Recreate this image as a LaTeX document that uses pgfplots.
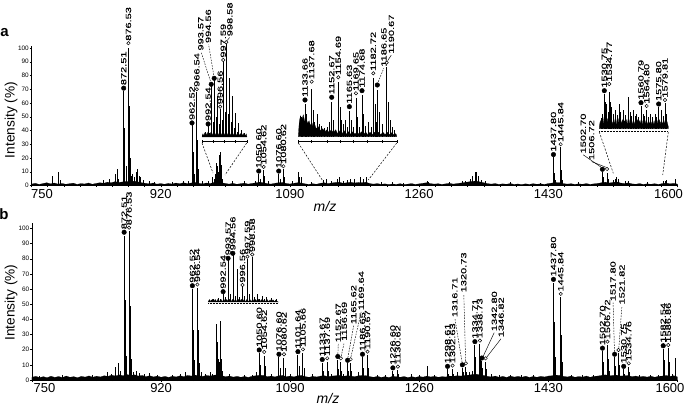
\documentclass[border=0pt]{standalone}
\usepackage{pgfplots}
\pgfplotsset{compat=1.18}
\usepackage{pgfplotstable}
\usepackage{fontspec}
\setmainfont{Liberation Sans}
\newfontfamily\lblfont[FakeStretch=1.47, FakeBold=0.15]{Liberation Sans}

\tikzset{
 lb/.style={rotate=90, anchor=west, inner sep=2.8pt, font=\lblfont\fontsize{7.5}{7.5}\selectfont},
 lbo/.style={lb, inner sep=2.2pt},
 lbl/.style={lb, inner sep=0.8pt},
 ldash/.style={line width=0.45pt, dash pattern=on 1.6pt off 1.2pt},
 lsol/.style={line width=0.45pt},
 cdash/.style={line width=0.5pt, dash pattern=on 2pt off 1.5pt},
}
\pgfplotsset{
 dots/.style={only marks, mark=*, mark size=2.3pt, mark options={fill=black, draw=black}},
 circs/.style={only marks, mark=*, mark size=1.7pt, mark options={fill=white, draw=black, line width=0.5pt}},
 sticks/.style={ycomb, black, line width=1pt},
 isticks/.style={ycomb, black, line width=0.6pt},
 mainax/.style={scale only axis, clip=false, anchor=south west, xmin=750, xmax=1600,
   axis x line*=bottom, axis y line*=left,
   axis line style={-, line width=0.5pt}, x axis line style={-}, y axis line style={-},
   xtick={750,920,1090,1260,1430,1600}, minor x tick num=7,
   ytick={0,10,...,100}, yticklabels={0,10,20,30,40,50,60,70,80,90,100},
   tick align=outside, major tick length=2pt, minor tick length=1.2pt,
   tick style={line width=0.4pt, black},
   xticklabel style={font=\fontsize{13}{13}\selectfont, inner sep=1.5pt},
   yticklabel style={font=\fontsize{6.4}{6.4}\selectfont, inner sep=0.6pt},
 },
 inax/.style={scale only axis, clip=false, anchor=south west,
   axis x line*=bottom, axis y line=none,
   axis line style={-, line width=0.5pt}, x axis line style={-},
   xticklabels={}, ytick=\empty, tick align=center, major tick length=2.5pt,
   tick style={line width=0.4pt, black}},
 hinax/.style={scale only axis, clip=false, anchor=south west, hide axis},
}

\pgfplotstableread{
x a b
750 1.0 1.8
755 1.6 2.4
760 0.8 1.6
765 1.4 2.2
770 2.0 1.5
775 1.2 2.5
780 1.8 1.7
785 1.0 2.3
790 1.5 1.6
795 0.9 2.6
800 1.3 1.8
805 1.7 2.2
810 0.8 1.5
815 1.4 2.4
820 1.1 1.9
825 1.8 2.7
830 0.9 1.8
835 1.5 2.5
840 2.0 2.0
845 1.6 2.8
850 2.4 2.4
855 2.0 3.2
860 2.8 2.6
865 2.2 3.4
870 2.6 2.8
875 3.0 3.6
880 2.4 3.0
885 3.2 3.4
890 2.6 2.6
895 2.0 3.0
900 1.6 2.2
905 1.2 2.8
910 1.8 2.0
915 1.0 2.6
920 1.4 1.8
925 0.9 2.4
930 1.5 1.7
935 1.1 2.5
940 1.8 2.0
945 1.3 2.8
950 2.0 2.2
955 1.4 3.0
960 1.8 2.6
965 2.2 3.2
970 1.6 2.8
975 1.2 2.4
980 1.8 3.0
985 1.4 2.6
990 2.2 3.2
995 2.8 3.4
1000 2.0 2.8
1005 1.5 2.2
1010 1.0 2.6
1015 1.6 1.9
1020 0.9 2.4
1025 1.3 1.8
1030 1.7 2.3
1035 1.0 1.7
1040 1.5 2.5
1045 1.9 2.8
1050 2.4 3.2
1055 2.0 3.0
1060 1.4 2.2
1065 1.0 2.6
1070 1.6 2.0
1075 2.0 2.8
1080 2.2 3.0
1085 1.5 2.2
1090 1.1 2.6
1095 1.6 2.0
1100 2.0 2.8
1105 1.8 3.0
1110 1.2 2.2
1115 0.8 1.8
1120 1.3 2.4
1125 0.9 2.0
1130 1.6 2.6
1135 2.0 2.8
1140 1.4 2.2
1145 1.8 2.6
1150 2.2 2.8
1155 2.4 3.0
1160 1.6 2.4
1165 2.0 2.8
1170 2.4 2.6
1175 1.8 2.2
1180 2.2 2.8
1185 2.0 3.0
1190 2.4 2.8
1195 1.4 2.2
1200 1.0 1.8
1205 1.4 2.4
1210 0.8 1.7
1215 1.2 2.2
1220 0.7 1.6
1225 1.1 2.4
1230 0.8 2.2
1235 1.3 1.8
1240 0.7 2.3
1245 1.0 1.6
1250 1.4 2.2
1255 0.8 1.7
1260 1.2 2.3
1265 1.6 1.9
1270 2.0 2.6
1275 1.4 2.0
1280 1.0 2.4
1285 1.3 1.8
1290 0.8 2.2
1295 1.2 2.0
1300 1.6 2.6
1305 1.0 2.4
1310 1.4 2.8
1315 1.8 2.6
1320 2.2 3.0
1325 2.6 3.2
1330 3.0 3.6
1335 3.2 3.8
1340 2.6 3.4
1345 2.0 3.0
1350 1.4 2.4
1355 1.0 2.0
1360 1.4 2.6
1365 0.8 1.8
1370 1.2 2.4
1375 0.9 1.7
1380 1.4 2.6
1385 0.8 1.9
1390 1.1 2.4
1395 0.7 1.8
1400 1.2 2.5
1405 0.8 1.7
1410 1.3 2.3
1415 0.9 1.8
1420 1.2 2.4
1425 0.8 2.0
1430 1.4 2.6
1435 1.8 2.8
1440 2.2 3.2
1445 2.0 3.0
1450 1.4 2.4
1455 1.0 2.0
1460 1.3 2.6
1465 0.8 1.8
1470 1.2 2.3
1475 0.9 1.9
1480 1.4 2.6
1485 0.8 1.8
1490 1.2 2.4
1495 1.5 2.6
1500 2.0 3.0
1505 2.4 3.4
1510 1.8 2.8
1515 2.2 3.0
1520 2.6 3.2
1525 1.8 2.6
1530 1.4 2.8
1535 1.9 3.0
1540 1.2 2.2
1545 0.9 2.6
1550 1.4 2.0
1555 0.8 2.4
1560 1.2 1.9
1565 0.9 2.5
1570 1.3 1.8
1575 0.8 2.4
1580 1.4 2.6
1585 1.8 3.0
1590 1.2 2.4
1595 1.6 2.8
1600 1.0 2.0
}\noise

\pgfplotstableread{
x y
777 7
785 9.5
788 4
845 4
852 5
860 8
862.5 12
865 5
871.3 69
872.6 42
874.5 14
877.6 100
878.8 58
880 20
881.5 7
883 8
886 6
887.5 10
890 12
891.5 7
893 6
897 4
905 3
912 2.8
935 2.5
950 3
957 3.5
961.2 44
963.5 24
964.5 8
967.6 68
969 33
970 12
975 3
983 3
987.5 6
990.5 5
992.54 8
993.57 16
994.56 14
995.56 10
996.56 9
997.59 22
998.58 24
999.58 15
1000.6 8
1001.6 5
1015 3
1030 3
1045 3.5
1049 8.5
1051 5
1055.5 11.5
1057 7
1062 3
1075.3 8.5
1077 5
1081.5 12
1083 6
1093 3
1101.6 9.5
1103 6
1105.7 6
1118 2.5
1134 4
1138 5
1145 3
1153 5
1155 6
1160 3.5
1166 4
1170 5
1175 5
1183 6
1187 5
1191 6.5
1210 2.5
1225 2.5
1240 2
1271 3.5
1273 2.8
1300 2.5
1317 3
1321 3.5
1328 5
1330 7
1334.7 9.5
1336 10
1338.7 7
1342 4
1347 3
1380 2.5
1420 2
1436.8 20.5
1438.3 9
1439.8 4
1446.3 28
1447.8 11
1449 4
1470 2.5
1501.2 10
1503 6
1507.3 9
1508.8 5
1516 4
1518 5
1520 6.5
1522 5
1531 3
1535 3.5
1560 2.5
1582 3
1584 3.5
1586 4
1598 4.5
}\peaksA

\pgfplotstableread{
x y
760 2.5
790 3
830 3.5
850 5
855 4
860 8.5
864 11
866 6
871.3 95
872.7 53
874.5 16
877.8 98
879.2 49
880.5 14
883 5
887 6
891 4.5
898 4
905 4.5
915 3.5
935 3
945 4
952 5
961.2 60
962.6 33
964.5 13
967.8 60.5
969.2 33
970.5 11
973 5
978 4
985 5
988 4
992.54 12
993.57 37
994.56 25
995.56 14
996.56 12
997.59 39
998.58 30
999.6 14
1000.6 6
1010 4
1030 3
1040 3.5
1045 5
1049.2 17.5
1050.6 10
1055.8 16
1057.2 9
1065 4
1075.2 15
1076.6 8
1081.8 14.5
1083.2 8
1090 4
1100.2 16.5
1101.6 9
1106.8 17.5
1108.2 8
1120 4
1132.2 11.5
1133.6 6
1138.8 12
1140.2 6
1145 4
1152.67 13.5
1153.7 7
1156.69 12
1157.7 6
1160 4
1165.62 11
1166.6 6
1169.64 11.5
1170.6 6
1180 5
1185.2 15
1186.6 8
1191.8 16.5
1193.2 8
1205 3
1215 3.5
1225.2 6
1226.6 4
1231.8 6.5
1233.2 4
1250 4
1260 3
1271 9.5
1280 3
1297.2 7
1298.6 4
1303.8 7.5
1305.2 4
1310 5
1316.71 8
1317.7 5
1321.3 8.5
1322.7 5
1326 5
1330 6
1333.2 23
1334.6 15
1339.8 23.5
1341.2 14
1342.3 12.5
1343.8 8
1347.3 12
1348.8 7
1355 4
1365 3
1380 3.5
1395 3
1410 3
1436.7 64
1438.1 38
1439.6 15
1446.3 54.5
1447.7 30
1449.2 12
1460 3
1475 3.5
1490 3
1501.2 19
1502.6 12
1507.8 23
1509.2 14
1511 6
1517.2 15
1518.6 9
1522.3 17.5
1523.7 10
1529.2 7
1530.6 4
1535.8 8.5
1537.2 5
1550 3
1565 3
1575 3.5
1581.2 20.5
1582.6 13
1587.8 21
1589.2 12
1593 4
1598 14.5
}\peaksB

\begin{document}
\begin{tikzpicture}
\useasboundingbox (0,0) rectangle (685pt,406pt);

% ================= PANEL A =================
\begin{axis}[mainax, at={(31.5pt,220.5pt)}, width=646pt, height=139pt, ymin=0, ymax=101.1,
  xticklabels={\hspace*{21pt}750,920,1090,1260,1430,1600\hspace*{18pt}}]
\addplot[fill=black, draw=black, line width=0.2pt] table[x=x,y=a]{\noise} \closedcycle;
\addplot[sticks] table[x=x,y=y]{\peaksA};
\addplot[dots] coordinates {(871.3,70.8) (961.2,45.5) (1049,10.5) (1075.3,10.5) (1436.8,22.5) (1501.2,11.8)};
\addplot[circs] coordinates {(877.6,103.5) (967.6,70) (1055.5,13.5) (1081.5,14) (1446.3,30) (1507.3,12)};
\node[lb] at (axis cs:871.3,70.8) {872.51};
\node[lbo] at (axis cs:877.6,103.5) {876.53};
\node[lb] at (axis cs:961.2,45.5) {962.52};
\node[lbo] at (axis cs:967.6,70) {966.54};
\node[lb] at (axis cs:1049,10.5) {1050.60};
\node[lbo] at (axis cs:1055.5,13.5) {1054.62};
\node[lb] at (axis cs:1075.3,10.5) {1076.60};
\node[lbo] at (axis cs:1081.5,14) {1080.62};
\node[lb] at (axis cs:1436.8,22.5) {1437.80};
\node[lbo] at (axis cs:1446.3,30) {1445.84};
\draw[lsol] (axis cs:1499,13.5) -- (axis cs:1476,22.3);
\node[lbl] at (axis cs:1476,22.6) {1502.70};
\draw[lsol] (axis cs:1505.6,13.3) -- (axis cs:1487,17.4);
\node[lbl] at (axis cs:1487,17.8) {1506.72};
\end{axis}

% inset 1a
\begin{axis}[inax, at={(202pt,264.5pt)}, width=45pt, height=101.5pt,
  xmin=990.5, xmax=1005.5, ymin=-4.5, ymax=97, xtick={990.6,994.3,997.9,1001.5,1005.4}]
\addplot[fill=black, draw=black, line width=0.2pt] coordinates {(990.5,0) (990.75,3) (991,1) (991.25,4) (991.5,1.5) (991.75,4) (992,1) (992.25,4.5) (992.5,1.5) (992.75,4) (993,1) (993.25,4.5) (993.5,1.5) (993.75,4) (994,1) (994.25,4.5) (994.5,1.5) (994.75,4) (995,1) (995.25,4.5) (995.5,1.5) (995.75,4) (996,1) (996.25,4.5) (996.5,1.5) (996.75,4) (997,1) (997.25,4.5) (997.5,1.5) (997.75,4) (998,1) (998.25,4.5) (998.5,1.5) (998.75,4) (999,1) (999.25,4.5) (999.5,1.5) (999.75,4) (1000,1) (1000.25,4) (1000.5,1.5) (1000.75,4) (1001,1) (1001.25,4) (1001.5,1.5) (1001.75,3.5) (1002,1) (1002.25,3.5) (1002.5,1.5) (1002.75,3.5) (1003,1) (1003.25,3.5) (1003.5,1.5) (1003.75,3.5) (1004,1) (1004.25,3.5) (1004.5,1.5) (1004.75,3) (1005,1) (1005.25,3) (1005.5,0)} \closedcycle;
\addplot[isticks] coordinates {(990.6,2) (991.5,5) (992.0,2) (992.54,11) (993.0,4) (993.57,50.5) (994.1,15) (994.56,56.5) (995.1,20) (995.56,40.5) (996.1,13) (996.56,27.5) (997.1,17) (997.59,74.5) (998.1,25) (998.58,92.5) (999.1,23) (999.58,58.5) (1000.1,15) (1000.6,40.5) (1001.1,9) (1001.6,23.5) (1002.1,5) (1002.6,13.5) (1003.1,3) (1003.6,6.5) (1004.6,3.5)};
\addplot[dots] coordinates {(992.54,13) (993.57,52.7) (994.56,58.7)};
\addplot[circs] coordinates {(996.56,30.3) (997.59,77) (998.58,94.7)};
\node[lb] at (axis cs:992.54,13) {992.54};
\draw[ldash] (axis cs:993.3,56) -- (axis cs:990.2,85);
\node[lbl] at (axis cs:990.1,85.5) {993.57};
\draw[ldash] (axis cs:994.4,62) -- (axis cs:992.7,92.5);
\node[lbl] at (axis cs:992.6,93) {994.56};
\node[lbo] at (axis cs:996.56,30.3) {996.56};
\node[lbo] at (axis cs:997.59,77) {997.59};
\draw[lsol] (axis cs:998.9,96.5) -- (axis cs:999.7,99.5);
\node[lbl] at (axis cs:999.8,99.8) {998.58};
\end{axis}

% inset 2a
\begin{axis}[inax, at={(298.3pt,264.3pt)}, width=98.4pt, height=85pt,
  xmin=1129, xmax=1197.6, ymin=-5, ymax=80, xtick={1129,1138.3,1148.8,1158.1,1167.4,1176.7,1187.2,1197.6}]
\addplot[fill=black, draw=black, line width=0.2pt] coordinates {(1129,1) (1129.7,15) (1130.5,21) (1131.5,17) (1132.5,22) (1133.5,15) (1134.5,19) (1135.5,13) (1136.5,16) (1137.5,11) (1138.5,14) (1139.5,9) (1140.5,12) (1141.5,8) (1143,10) (1144.5,6) (1146,8) (1147.5,5) (1149,7) (1150.5,4) (1152,7) (1153.5,4) (1155,7) (1156.5,3) (1158,6) (1159.5,3) (1161,6) (1162.5,2.5) (1164,5) (1165.5,2.5) (1167,5) (1168.5,2.5) (1170,5) (1171.5,2) (1173,5) (1174.5,2.5) (1176,4.5) (1177.5,2) (1179,4.5) (1180.5,2) (1182,4.5) (1183.5,2) (1185,4.5) (1186.5,2) (1188,4.5) (1189.5,2) (1191,4.5) (1192.5,2) (1194,4) (1195.5,2) (1197,3) (1197.6,1)} \closedcycle;
\addplot[isticks] coordinates {(1131,20) (1132,17) (1133.66,33) (1134.7,23) (1136,13) (1138.3,48) (1139.4,27) (1140.5,15) (1142.2,23) (1143.6,13) (1145,11) (1147,9) (1149,10) (1150.7,15) (1152.3,35) (1153.5,17) (1156.9,55) (1158,30) (1159.2,17) (1160.6,13) (1161.8,17) (1163,10) (1164.6,26) (1165.8,17) (1167.2,10) (1169.2,39) (1170.4,20) (1171.6,10) (1173.4,42) (1174.6,23) (1176,11) (1178,15) (1179.8,10) (1181.3,59) (1182.5,33) (1183.2,15) (1184.1,47) (1185.4,25) (1187.5,13) (1190.6,70) (1191.8,35) (1193,17) (1194.7,10) (1196,7)};
\addplot[dots] coordinates {(1133.66,36.7) (1152.3,39.4) (1164.6,30) (1173.4,46) (1184.1,51.7)};
\addplot[circs] coordinates {(1138.3,55) (1156.9,59.4) (1169.2,43.4) (1181.3,63.4) (1190.6,74)};
\node[lb] at (axis cs:1133.66,36.7) {1133.66};
\node[lbo] at (axis cs:1138.3,55) {1137.68};
\node[lb] at (axis cs:1152.3,39.4) {1152.67};
\node[lbo] at (axis cs:1156.9,59.4) {1154.69};
\node[lb] at (axis cs:1164.6,30) {1165.63};
\node[lbo] at (axis cs:1169.2,43.4) {1169.65};
\node[lb] at (axis cs:1173.4,46) {1174.68};
\node[lbo] at (axis cs:1181.3,63.4) {1182.72};
\draw[ldash] (axis cs:1184.8,55) -- (axis cs:1188.6,68.5);
\node[lbl] at (axis cs:1188.7,69) {1186.65};
\draw[lsol] (axis cs:1191.3,76) -- (axis cs:1193.8,81.5);
\node[lbl] at (axis cs:1193.9,82) {1190.67};
\end{axis}

% inset 3a
\begin{axis}[hinax, at={(599.3pt,274.3pt)}, width=69pt, height=50pt,
  xmin=1526.7, xmax=1582.5, ymin=-3, ymax=47]
\draw[line width=0.5pt, densely dotted] (axis cs:1526.7,-3) -- (axis cs:1582.5,-3);
\addplot[fill=black, draw=black, line width=0.2pt] coordinates {(1526.7,2) (1527.5,8) (1528.3,4) (1529,9) (1529.8,5) (1530.5,11) (1531.3,6) (1532,10) (1532.8,5) (1533.5,10) (1534.3,6) (1535,11) (1535.8,5) (1536.5,9) (1537.3,4) (1538,9) (1538.8,5) (1539.5,10) (1540.3,4) (1541,9) (1541.8,5) (1542.5,10) (1543.3,4) (1544,9) (1544.8,5) (1545.5,9) (1546.3,4) (1547,8) (1547.8,5) (1548.5,9) (1549.3,4) (1550,10) (1550.8,5) (1551.5,9) (1552.3,4) (1553,8) (1553.8,4) (1554.5,9) (1555.3,4) (1556,8) (1556.8,4) (1557.5,9) (1558.3,4) (1559,8) (1559.8,5) (1560.5,9) (1561.3,4) (1562,8) (1562.8,4) (1563.5,9) (1564.3,5) (1565,8) (1565.8,4) (1566.5,8) (1567.3,4) (1568,9) (1568.8,4) (1569.5,8) (1570.3,4) (1571,8) (1571.8,4) (1572.5,9) (1573.3,4) (1574,8) (1574.8,5) (1575.5,9) (1576.3,4) (1577,9) (1577.8,4) (1578.5,8) (1579.3,5) (1580,9) (1580.8,4) (1581.5,7) (1582.5,2)} \closedcycle;
\addplot[isticks] coordinates {(1528,11) (1529.5,15) (1530.75,35) (1531.7,27) (1532.7,25) (1533.7,17) (1534.77,37) (1535.7,27) (1536.7,22) (1538,15) (1539.4,19) (1541,14) (1542.6,25) (1544,17) (1546.1,19) (1548,14) (1550.1,32) (1551.5,17) (1552.8,13) (1554.2,19) (1555.5,13) (1556.9,15) (1558.5,12) (1560.4,23) (1562,15) (1563,13) (1565.0,19) (1566.3,12) (1567.7,15) (1569.5,12) (1571.7,15) (1573,12) (1574.7,22) (1576.6,19) (1578.2,13) (1579.81,26) (1581.2,15)};
\addplot[dots] coordinates {(1530.75,38) (1560.4,26) (1574.7,24.7)};
\addplot[circs] coordinates {(1534.77,44.7) (1565.0,22.7) (1579.81,28.7)};
\node[lb] at (axis cs:1530.75,38) {1530.75};
\node[lbo] at (axis cs:1534.77,44.7) {1534.77};
\node[lb] at (axis cs:1560.4,26) {1560.79};
\node[lbo] at (axis cs:1565.0,22.7) {1564.80};
\node[lb] at (axis cs:1574.7,24.7) {1575.80};
\node[lbo] at (axis cs:1579.81,28.7) {1579.81};
\end{axis}

% connectors panel a
\draw[cdash] (202pt,263pt) -- (213pt,233pt);
\draw[cdash] (246.7pt,263pt) -- (225pt,231pt);
\draw[cdash] (298.3pt,263pt) -- (323.3pt,224.3pt);
\draw[cdash] (396.7pt,263pt) -- (368.3pt,226pt);
\draw[cdash] (599.3pt,274pt) -- (613.3pt,232.7pt);
\draw[cdash] (668.3pt,274pt) -- (662.7pt,231pt);

% ================= PANEL B =================
\begin{axis}[mainax, at={(32pt,26pt)}, width=645.5pt, height=157pt, ymin=0, ymax=103.6,
  xticklabels={\hspace*{25pt}750,920,1090,1260,1430,1600\hspace*{15pt}}]
\addplot[fill=black, draw=black, line width=0.2pt] table[x=x,y=b]{\noise} \closedcycle;
\addplot[sticks] table[x=x,y=y]{\peaksB};
\addplot[dots] coordinates {(871.3,97.5) (961.2,62.2) (1049.2,19.8) (1075.2,17) (1100.2,18.7) (1132.2,13.5) (1152.67,15.5) (1165.62,13) (1185.2,17) (1225.2,8) (1297.2,9) (1316.71,10) (1333.2,25.3) (1342.3,14.5) (1436.7,66.4) (1501.2,21) (1517.2,17) (1529.2,9) (1581.2,22.6)};
\addplot[circs] coordinates {(877.8,100.5) (967.8,63) (1055.8,18.5) (1081.8,17) (1106.8,20.2) (1138.8,14.3) (1156.69,14.3) (1169.64,13.7) (1191.8,18.7) (1231.8,8.8) (1303.8,9.5) (1321.3,11) (1339.8,26) (1347.3,14.3) (1446.3,56.8) (1507.8,25.3) (1522.3,19.8) (1535.8,11) (1587.8,23.1)};
\node[lb] at (axis cs:871.3,97.5) {872.51};
\node[lbo] at (axis cs:877.8,100.5) {876.53};
\node[lb] at (axis cs:961.2,62.2) {962.52};
\node[lbo] at (axis cs:967.8,63) {966.54};
\node[lb] at (axis cs:1049.2,19.8) {1050.60};
\node[lbo] at (axis cs:1055.8,18.5) {1054.62};
\node[lb] at (axis cs:1075.2,17) {1076.60};
\node[lbo] at (axis cs:1081.8,17) {1080.62};
\node[lb] at (axis cs:1100.2,18.7) {1101.64};
\node[lbo] at (axis cs:1106.8,20.2) {1105.66};
\node[lb] at (axis cs:1132.2,13.5) {1133.67};
\node[lbo] at (axis cs:1138.8,14.3) {1137.69};
\draw[ldash] (axis cs:1152.8,17.2) -- (axis cs:1153.3,23.8);
\node[lbl] at (axis cs:1153.3,24.2) {1152.67};
\draw[ldash] (axis cs:1157.2,15.8) -- (axis cs:1161.2,24.8);
\node[lbl] at (axis cs:1161.2,25.2) {1156.69};
\draw[ldash] (axis cs:1166,14.8) -- (axis cs:1173.5,35.8);
\node[lbl] at (axis cs:1173.6,36.2) {1165.62};
\draw[ldash] (axis cs:1170,15.2) -- (axis cs:1183.5,45);
\node[lbl] at (axis cs:1183.6,45.4) {1169.64};
\node[lb] at (axis cs:1185.2,17) {1186.65};
\node[lbo] at (axis cs:1191.8,18.7) {1190.67};
\node[lb] at (axis cs:1225.2,8) {1226.60};
\node[lbo] at (axis cs:1231.8,8.8) {1130.62};
\node[lb] at (axis cs:1297.2,9) {1298.61};
\node[lbo] at (axis cs:1303.8,9.5) {1302.63};
\draw[ldash] (axis cs:1316.3,11.8) -- (axis cs:1307,40.3);
\node[lbl] at (axis cs:1306.8,40.8) {1316.71};
\draw[ldash] (axis cs:1321,12.5) -- (axis cs:1318.6,56.7);
\node[lbl] at (axis cs:1318.5,57.2) {1320.73};
\node[lb] at (axis cs:1333.2,25.3) {1334.71};
\node[lbo] at (axis cs:1339.8,26) {1338.73};
\draw[lsol] (axis cs:1344,15.5) -- (axis cs:1358.6,31.2);
\node[lbl] at (axis cs:1358.8,31.6) {1342.80};
\draw[lsol] (axis cs:1349,15.2) -- (axis cs:1367.6,27.2);
\node[lbl] at (axis cs:1367.8,27.6) {1346.82};
\node[lb] at (axis cs:1436.7,66.4) {1437.80};
\node[lbo] at (axis cs:1446.3,56.8) {1445.84};
\node[lb] at (axis cs:1501.2,21) {1502.70};
\node[lbo] at (axis cs:1507.8,25.3) {1506.72};
\draw[ldash] (axis cs:1517,18.8) -- (axis cs:1515.2,51);
\node[lbl] at (axis cs:1515.1,51.4) {1517.80};
\draw[ldash] (axis cs:1522.8,21.3) -- (axis cs:1526.8,48.8);
\node[lbl] at (axis cs:1526.9,49.2) {1521.82};
\node[lb] at (axis cs:1529.2,9) {1530.75};
\node[lbo] at (axis cs:1535.8,11) {1534.76};
\node[lb] at (axis cs:1581.2,22.6) {1582.54};
\node[lbo] at (axis cs:1587.8,23.1) {1586.86};
\end{axis}

% inset 1b
\begin{axis}[hinax, at={(208pt,102.5pt)}, width=70.3pt, height=55pt,
  xmin=989.4, xmax=1004, ymin=-1.5, ymax=53.5]
\draw[line width=0.5pt, densely dotted] (axis cs:989.4,-1.5) -- (axis cs:1004,-1.5);
\addplot[fill=black, draw=black, line width=0.2pt] coordinates {(989.4,0) (989.7,2.5) (990,0.4) (990.3,2.8) (990.6,0.4) (990.9,2.6) (991.2,0.4) (991.5,3) (991.8,0.4) (992.1,2.6) (992.4,0.4) (992.7,2.8) (993,0.4) (993.3,2.6) (993.6,0.4) (993.9,2.8) (994.2,0.4) (994.5,2.6) (994.8,0.4) (995.1,2.8) (995.4,0.4) (995.7,2.6) (996,0.4) (996.3,2.8) (996.6,0.4) (996.9,2.6) (997.2,0.4) (997.5,2.8) (997.8,0.4) (998.1,2.6) (998.4,0.4) (998.7,2.8) (999,0.4) (999.3,2.6) (999.6,0.4) (999.9,2.6) (1000.2,0.4) (1000.5,2.4) (1000.8,0.4) (1001.1,2.4) (1001.4,0.4) (1001.7,2.4) (1002,0.4) (1002.3,2.2) (1002.6,0.4) (1002.9,2.2) (1003.2,0.4) (1003.5,2) (1003.8,0.4) (1004,0)} \closedcycle;
\addplot[isticks] coordinates {(990,2) (990.5,3) (991,2) (991.5,3.5) (992,3) (992.54,8) (993.0,4.5) (993.57,41.5) (994.0,8) (994.56,46.5) (995.0,6) (995.56,33) (996.0,5) (996.56,14.5) (997.0,6) (997.59,42.5) (998.0,8) (998.58,45) (999.0,5) (999.58,8) (1000.0,3) (1000.58,6) (1001.0,3) (1001.58,5) (1002.58,4) (1003.58,3)};
\addplot[dots] coordinates {(992.54,10.3) (993.57,43.7) (994.56,48.7)};
\addplot[circs] coordinates {(996.56,17) (997.59,45.3) (998.58,47.5)};
\node[lb] at (axis cs:992.54,10.3) {992.54};
\node[lb] at (axis cs:993.57,43.7) {993.57};
\node[lb] at (axis cs:994.56,48.7) {994.56};
\node[lbo] at (axis cs:996.56,17) {996.56};
\node[lbo] at (axis cs:997.59,45.3) {997.59};
\node[lbo] at (axis cs:998.58,47.5) {998.58};
\end{axis}

% panel letters and axis titles
\node[font=\bfseries\fontsize{15}{15}\selectfont] at (4.5pt,373pt) {a};
\node[font=\bfseries\fontsize{15}{15}\selectfont] at (4pt,192pt) {b};
\node[rotate=90, font=\fontsize{13.7}{14}\selectfont] at (11pt,286pt) {Intensity (\%)};
\node[rotate=90, font=\fontsize{13.7}{14}\selectfont] at (11pt,103.4pt) {Intensity (\%)};
\node[font=\itshape\fontsize{14}{14}\selectfont] at (325pt,199pt) {m/z};
\node[font=\itshape\fontsize{14}{14}\selectfont] at (328pt,8pt) {m/z};
\end{tikzpicture}
\end{document}
